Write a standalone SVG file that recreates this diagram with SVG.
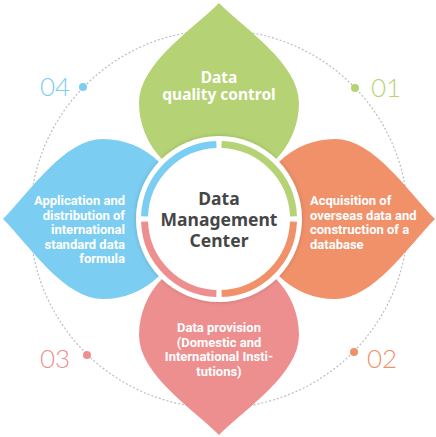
<svg xmlns="http://www.w3.org/2000/svg" width="436" height="437" viewBox="0 0 436 437">
<defs>
<style>
.leaf-t{font-family:Roboto,"Liberation Sans",sans-serif;font-weight:700;font-size:13px;fill:#fff}
.num{font-family:Lato,"Open Sans",sans-serif;font-weight:300;font-size:26px}
.ctr{font-family:"Noto Sans","Liberation Sans",sans-serif;font-weight:700;font-size:17.5px;fill:#464646;text-anchor:middle}
.arc{fill:none;stroke-width:7}
</style>
<path id="leaf" d="M0,-216 C27,-189 80,-155 80,-116 A80,80 0 0 1 -80,-116 C-80,-155 -27,-189 0,-216 Z"/>
<filter id="sh" x="-20%" y="-20%" width="140%" height="140%">
<feDropShadow dx="0" dy="0" stdDeviation="2" flood-color="#000" flood-opacity="0.18"/>
</filter>
</defs>
<rect width="436" height="437" fill="#fff"/>
<g id="connectors">
<circle cx="219" cy="219" r="189" fill="none" stroke="#bdbdbd" stroke-width="1.2" stroke-dasharray="2 2"/>
</g>
<g id="node-01-quality">
<use href="#leaf" transform="translate(219,219)" fill="#b5d374"/>
<text x="219" y="83" font-family="Noto Sans, Liberation Sans, sans-serif" font-weight="700" font-size="15.5" fill="#fff" text-anchor="middle">Data</text>
<text x="219" y="100" font-family="Noto Sans, Liberation Sans, sans-serif" font-weight="700" font-size="15.5" fill="#fff" text-anchor="middle">quality control</text>
</g>
<g id="node-02-acquisition">
<use href="#leaf" transform="translate(219,219) rotate(90)" fill="#f0916a"/>
<text class="leaf-t" x="310" y="205">Acquisition of</text>
<text class="leaf-t" x="310" y="219.5">overseas data and</text>
<text class="leaf-t" x="310" y="234">construction of a</text>
<text class="leaf-t" x="310" y="248.5">database</text>
</g>
<g id="node-03-provision">
<use href="#leaf" transform="translate(219,219) rotate(180)" fill="#ed8f8f"/>
<text class="leaf-t" x="219" y="332" text-anchor="middle">Data provision</text>
<text class="leaf-t" x="219" y="346.5" text-anchor="middle">(Domestic and</text>
<text class="leaf-t" x="219" y="361" text-anchor="middle">International Insti-</text>
<text class="leaf-t" x="219" y="375.5" text-anchor="middle">tutions)</text>
</g>
<g id="node-04-application">
<use href="#leaf" transform="translate(219,219) rotate(270)" fill="#7ccdf2"/>
<text class="leaf-t" x="125" y="205" text-anchor="end">Application and</text>
<text class="leaf-t" x="125" y="219.5" text-anchor="end">distribution of</text>
<text class="leaf-t" x="125" y="234" text-anchor="end">international</text>
<text class="leaf-t" x="125" y="248.5" text-anchor="end">standard data</text>
<text class="leaf-t" x="125" y="263" text-anchor="end">formula</text>
</g>
<g id="center">
<circle cx="219" cy="219" r="83" fill="#fff" filter="url(#sh)"/>
<path class="arc" stroke="#b5d374" d="M221.6,144.55 A74.5,74.5 0 0 1 293.45,216.4"/>
<path class="arc" stroke="#f0916a" d="M293.45,221.6 A74.5,74.5 0 0 1 221.6,293.45"/>
<path class="arc" stroke="#ed8f8f" d="M216.4,293.45 A74.5,74.5 0 0 1 144.55,221.6"/>
<path class="arc" stroke="#7ccdf2" d="M144.55,216.4 A74.5,74.5 0 0 1 216.4,144.55"/>
<text class="ctr" x="219" y="205">Data</text>
<text class="ctr" x="219" y="226">Management</text>
<text class="ctr" x="219" y="247">Center</text>
</g>
<g id="label-01">
<circle cx="355" cy="88" r="4" fill="#b5d374"/>
<text class="num" x="371" y="97" fill="#b5d374">01</text>
</g>
<g id="label-02">
<circle cx="354" cy="352" r="4" fill="#f0916a"/>
<text class="num" x="367" y="368" fill="#f0916a">02</text>
</g>
<g id="label-03">
<circle cx="87" cy="355" r="4" fill="#ed8f8f"/>
<text class="num" x="40" y="368" fill="#ed8f8f">03</text>
</g>
<g id="label-04">
<circle cx="83" cy="87" r="4" fill="#7ccdf2"/>
<text class="num" x="40" y="96" fill="#7ccdf2">04</text>
</g>
</svg>
